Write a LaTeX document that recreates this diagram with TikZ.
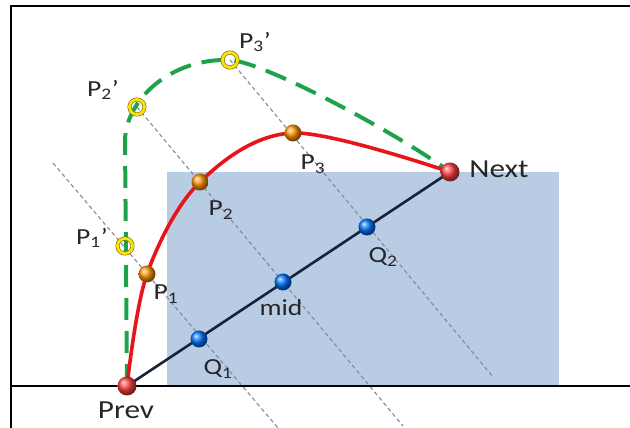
\documentclass[tikz,border=0pt]{standalone}
\usepackage{fontspec}
\setmainfont{Carlito}
\definecolor{rectblue}{HTML}{B8CCE4}
\definecolor{curvered}{HTML}{E8141A}
\definecolor{dgreen}{HTML}{1FA34A}
\definecolor{navy}{HTML}{16233A}
\definecolor{guide}{HTML}{7D8CA3}
\begin{document}
\begin{tikzpicture}[x=1pt,y=1pt,
  ballnode/.style={circle,inner sep=0pt,minimum size=17pt,shading=ball},
  ringnode/.style={circle,inner sep=0pt,minimum size=15pt,draw=olive!75!black,line width=0.6pt,double=yellow!85!orange,double distance=2.8pt},
  guideline/.style={guide,line width=1.1pt,dash pattern=on 4pt off 3pt},
  lbl/.style={inner sep=0pt,text=black!85,font=\fontsize{23}{26}\selectfont},
  biglbl/.style={inner sep=0pt,text=black!85,font=\fontsize{26}{30}\selectfont}]
\useasboundingbox (0,0) rectangle (630,428);
% blue rectangle
\fill[rectblue] (167,42) rectangle (559,256);
% named points
\coordinate (prev) at (127,42);
\coordinate (next) at (450,256);
\coordinate (q1) at (199,89);
\coordinate (mid) at (283,146);
\coordinate (q2) at (367,201);
\coordinate (p1) at (147,154);
\coordinate (p2) at (200,246);
\coordinate (p3) at (293,295);
\coordinate (p1r) at (125,182);
\coordinate (p2r) at (137,321);
\coordinate (p3r) at (230,368);
\coordinate (g1a) at (53,265);
\coordinate (g1b) at (278,0);
\coordinate (g2b) at (403,2);
\coordinate (g3b) at (493,51);
\coordinate (gv) at (125,288);
% guide lines
\draw[guideline] (g1a) -- (g1b);
\draw[guideline] (p2r) -- (g2b);
\draw[guideline] (p3r) -- (g3b);
% frame and base line
\coordinate (fa) at (11,0);
\coordinate (fb) at (11,422);
\coordinate (fc) at (630,422);
\coordinate (ba) at (11,42);
\coordinate (bb) at (630,42);
\draw[black,line width=2pt] (fa) -- (fb) -- (fc);
\draw[black,line width=2.6pt] (ba) -- (bb);
% chord
\draw[navy,line width=2.6pt] (prev) -- (next);
% green dashed curve
\draw[dgreen,line width=4pt,dash pattern=on 22pt off 11pt]
  (prev) -- (gv) .. controls (126,328) and (170,370) .. (p3r)
  .. controls (265,366) and (400,293) .. (next);
% red curve
\draw[curvered,line width=3.6pt] plot[smooth,tension=0.55] coordinates {(prev) (p1) (p2) (p3) (next)};
% balls
\node[ballnode,ball color=red!75!white,minimum size=19pt] (nprev) at (prev) {};
\node[ballnode,ball color=red!75!white,minimum size=19pt] (nnext) at (next) {};
\node[ballnode,ball color=orange!85!yellow] (np1) at (p1) {};
\node[ballnode,ball color=orange!85!yellow] (np2) at (p2) {};
\node[ballnode,ball color=orange!85!yellow] (np3) at (p3) {};
\node[ballnode,ball color=blue!55!cyan] (nq1) at (q1) {};
\node[ballnode,ball color=blue!55!cyan] (nmid) at (mid) {};
\node[ballnode,ball color=blue!55!cyan] (nq2) at (q2) {};
\node[ringnode] (nr1) at (p1r) {};
\node[ringnode] (nr2) at (p2r) {};
\node[ringnode] (nr3) at (p3r) {};
% labels
\node[lbl] (t1r) at (92,190) {\scalebox{1.2}[1]{P\textsubscript{1}’}};
\node[lbl] (t2r) at (103,338) {\scalebox{1.2}[1]{P\textsubscript{2}’}};
\node[lbl] (t3r) at (255,386) {\scalebox{1.2}[1]{P\textsubscript{3}’}};
\node[lbl] (t1) at (166,134) {\scalebox{1.2}[1]{P\textsubscript{1}}};
\node[lbl] (t2) at (221,218) {\scalebox{1.2}[1]{P\textsubscript{2}}};
\node[lbl] (t3) at (313,264) {\scalebox{1.2}[1]{P\textsubscript{3}}};
\node[lbl] (tq1) at (218,59) {\scalebox{1.2}[1]{Q\textsubscript{1}}};
\node[lbl] (tq2) at (383,171) {\scalebox{1.2}[1]{Q\textsubscript{2}}};
\node[lbl] (tmid) at (281,120) {\scalebox{1.2}[1]{mid}};
\node[biglbl] (tprev) at (126,18) {\scalebox{1.2}[1]{Prev}};
\node[biglbl] (tnext) at (499,259) {\scalebox{1.2}[1]{Next}};
\end{tikzpicture}
\end{document}
